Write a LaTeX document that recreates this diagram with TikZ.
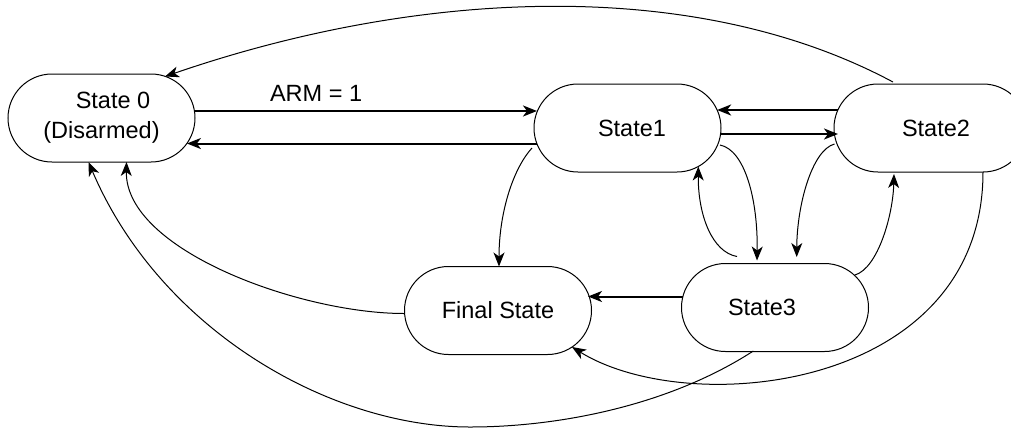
\documentclass[tikz,border=0pt]{standalone}
\usepackage{fontspec}
\setmainfont{Liberation Sans}
\usetikzlibrary{calc,arrows.meta,shapes.misc}
\tikzset{
	state/.style={rounded rectangle, draw, line width=1bp, minimum width=187bp, minimum height=88bp, inner sep=0pt, align=center, font=\fontsize{23.5bp}{30bp}\selectfont},
	trans/.style={line width=1bp, -{Stealth[length=14bp,width=11bp,inset=4bp]}},
	bus/.style={trans, line width=2bp}
}

\begin{document}
\begin{tikzpicture}[x=1bp, y=-1bp]
			%%%%% START %%%%%
			\useasboundingbox (0,0) rectangle (1011,427);
			
			\node[state] (s0) at (101.5, 118) {\hspace*{23bp}State 0\\(Disarmed)};
			\node[state] (s1) at (627.5, 128) {\hspace*{9bp}State1};
			\node[state, minimum width=193bp] (s2) at (930.5, 128) {\hspace*{11bp}State2};
			\node[state] (fin) at (498, 310.5) {Final State};
			\node[state] (s3) at (775, 307.5) {State3\hspace*{26bp}};
			
			% straight ones
			\draw[bus] ($(s0)+(93,-7)$) -- node[pos=.355, anchor=base, yshift=10bp, font=\fontsize{23.5bp}{30bp}\selectfont] (arm) {ARM = 1} ($(s1)+(-90.5,-17)$);
			\draw[bus] ($(s1)+(-90.7,15.5)$) -- ($(s0)+(85.4,25.5)$);
			\draw[bus] ($(s2)+(-92.6,-18)$) -- ($(s1)+(89.6,-18)$);
			\draw[bus] ($(s1)+(93,6)$) -- ($(s2)+(-92.5,6)$);
			\draw[bus] ($(s3)+(-92,-11)$) -- ($(fin)+(90,-14)$);
			
			% back to State 0
			\draw[trans] ($(s2)+(-37.5,-46)$) .. controls (693,-25) and (416,-10) .. ($(s0)+(63.5,-41.5)$);
			\draw[trans] ($(fin)+(-94,3)$) .. controls (300,313.5) and (125,250) .. ($(s0)+(25,44)$);
			\draw[trans] ($(s3)+(-21.7,43.5)$) .. controls (670,405) and (560,427) .. (470,427) .. controls (330,427) and (160,330) .. ($(s0)+(-13,44)$);
			
			% to Final State
			\draw[trans] ($(s1)+(-95.5,20)$) .. controls (512,170) and (499,215) .. ($(fin)+(1,-44)$);
			\draw[trans] ($(s2)+(52.5,44)$) .. controls (983,390) and (690,420) .. ($(fin)+(74,36.5)$);
			
			% between State1, State2 and State3
			\draw[trans] ($(s1)+(92.5,17)$) .. controls (745,150) and (758,200) .. ($(s3)+(-18,-47)$);
			\draw[trans] ($(s3)+(-38,-51)$) .. controls (712,252) and (698,215) .. ($(s1)+(70.8,38.5)$);
			\draw[trans] ($(s2)+(-96,16)$) .. controls (812,150) and (797,205) .. ($(s3)+(21.7,-50.5)$);
			\draw[trans] ($(s3)+(80,-32.5)$) .. controls (878,268) and (893,215) .. ($(s2)+(-36.5,46)$);
			
			%%%%% END %%%%%
\end{tikzpicture}
\end{document}
